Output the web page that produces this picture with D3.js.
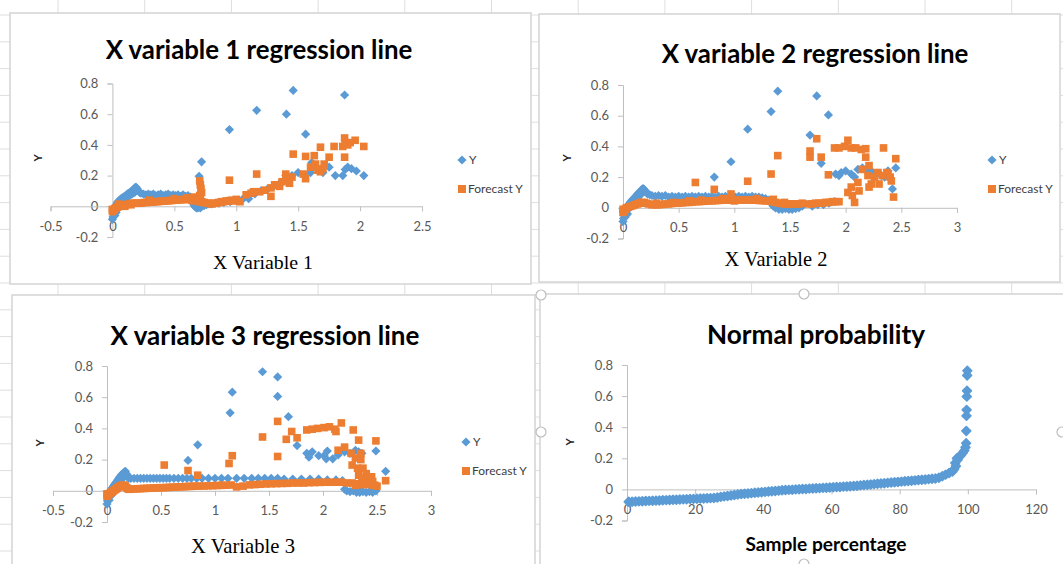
<!DOCTYPE html>
<html>
<head>
<meta charset="utf-8">
<script src="https://cdn.jsdelivr.net/npm/d3@7"></script>
<style>
  body { margin: 0; background: #fff; }
  svg { display: block; }
</style>
</head>
<body>
<svg id="chart" width="1063" height="564"></svg>
<script>
// values
const yTicks = [-0.2, 0, 0.2, 0.4, 0.6, 0.8];
const x1Ticks = [-0.5, 0, 0.5, 1, 1.5, 2, 2.5];
const x2Ticks = [0, 0.5, 1, 1.5, 2, 2.5, 3];
const x3Ticks = [-0.5, 0, 0.5, 1, 1.5, 2, 2.5, 3];
const pctTicks = [0, 20, 40, 60, 80, 100, 120];
const seriesNames = ['Y', 'Forecast Y'];

// X variable 1 : [x, y]
const p1Y = [
  [0,-0.085],[0.005,-0.07],[0.01,-0.05],[0.015,-0.03],[0.02,-0.01],[0.03,0.01],[0.04,0.025],[0.05,0.035],
  [0.06,0.04],[0.07,0.05],[0.08,0.055],[0.09,0.06],[0.1,0.065],[0.11,0.07],[0.12,0.08],[0.13,0.085],
  [0.14,0.09],[0.15,0.095],[0.16,0.1],[0.17,0.11],[0.18,0.12],[0.19,0.125],[0.2,0.115],[0.21,0.1],
  [0.22,0.09],[0.23,0.085],[0.02,-0.06],[0.03,-0.04],[0.04,-0.02],[0.06,0],[0.08,0.03],[0.1,0.045],
  [0.12,0.06],[0.14,0.07],[0.16,0.08],[0.18,0.09],[0.19,0.105],
  [0.25,0.08],[0.27,0.075],[0.29,0.08],[0.31,0.075],[0.33,0.08],[0.35,0.07],[0.37,0.075],[0.39,0.08],
  [0.41,0.07],[0.43,0.075],[0.45,0.08],[0.47,0.07],[0.49,0.075],[0.51,0.07],[0.53,0.075],[0.55,0.065],
  [0.57,0.075],[0.59,0.065],[0.61,0.07],[0.63,0.06],[0.64,0.04],[0.65,0.02],[0.66,0.005],[0.67,-0.005],
  [0.68,-0.01],[0.69,-0.01],[0.7,-0.005],[0.71,-0.01],[0.72,0],[0.74,0.005],[0.76,0.01],[0.78,0.015],
  [0.8,0.015],[0.83,0.02],[0.86,0.02],[0.9,0.025],[0.95,0.03],[1,0.035],[1.05,0.045],[1.1,0.05],
  [1.15,0.08],[1.2,0.1],[1.25,0.11],[1.3,0.13],[1.35,0.15],[1.4,0.2],[1.45,0.2],[1.5,0.22],
  [1.55,0.2],[1.6,0.22],[1.65,0.25],[1.7,0.22],
  [1.46,0.755],[1.165,0.625],[1.405,0.6],[1.875,0.725],[0.945,0.5],[1.56,0.47],[0.72,0.29],[0.7,0.195],
  [1.61,0.285],[1.75,0.255],[1.8,0.2],[1.86,0.2],[1.9,0.255],[1.93,0.245],[1.97,0.23],[2.03,0.2],[1.88,0.24]
];
const p1F = [
  [0,-0.035],[0,-0.02],[0.01,-0.025],[0.02,-0.015],[0.03,-0.01],[0.04,-0.005],[0.05,0],[0.06,0],
  [0.07,0.005],[0.08,0.005],[0.1,0.01],[0.12,0.012],[0.14,0.015],[0.16,0.02],[0.18,0.02],[0.2,0.02],
  [0.22,0.02],[0.24,0.022],[0.26,0.025],[0.28,0.025],[0.3,0.027],[0.32,0.028],[0.34,0.03],[0.36,0.03],
  [0.38,0.032],[0.4,0.033],[0.42,0.035],[0.44,0.035],[0.46,0.037],[0.48,0.038],[0.5,0.04],[0.52,0.04],
  [0.54,0.042],[0.56,0.043],[0.58,0.045],[0.6,0.045],[0.62,0.045],[0.64,0.04],[0.66,0.035],[0.68,0.04],
  [0.7,0.03],[0.72,0.03],[0.74,0.025],[0.76,0.02],[0.78,0.02],[0.8,0.015],[0.82,0.02],[0.84,0.02],
  [0.86,0.025],[0.88,0.03],[0.9,0.03],[0.92,0.035],[0.94,0.035],[0.96,0.04],[0.98,0.035],[1,0.045],
  [1.03,0.03],[0.05,0.015],[0.1,0],[0.15,0.01],[0.3,0.04],[0.5,0.05],[0.6,0.055],[0.66,0.06],
  [0.705,0.165],[0.71,0.14],[0.715,0.115],[0.72,0.09],[0.705,0.07],[0.71,0.055],
  [0.945,0.17],[1.165,0.21],[1.08,0.075],[1.12,0.085],[1.14,0.095],[1.19,0.095],[1.23,0.105],[1.28,0.12],
  [1.28,0.065],[1.31,0.14],[1.35,0.13],[1.37,0.16],[1.4,0.21],[1.42,0.17],[1.43,0.15],[1.45,0.19],
  [1.46,0.34],[1.54,0.21],[1.56,0.18],[1.56,0.325],[1.6,0.255],[1.63,0.33],[1.64,0.275],[1.66,0.235],
  [1.68,0.385],[1.68,0.225],[1.7,0.245],[1.71,0.275],[1.75,0.32],[1.79,0.39],[1.86,0.39],[1.875,0.445],
  [1.875,0.32],[1.9,0.4],[1.92,0.415],[1.96,0.43],[2.03,0.39],[1.88,0.41]
];

// X variable 2 : [x, y]
const p2Y = [
  [0,-0.09],[0.005,-0.07],[0.01,-0.05],[0.02,-0.03],[0.03,-0.01],[0.04,0.01],[0.05,0.02],[0.06,0.03],
  [0.07,0.04],[0.08,0.05],[0.09,0.055],[0.1,0.06],[0.11,0.07],[0.12,0.08],[0.13,0.09],[0.14,0.095],
  [0.15,0.1],[0.16,0.11],[0.17,0.12],[0.18,0.125],[0.19,0.12],[0.2,0.11],[0.21,0.1],[0.22,0.09],
  [0.24,0.085],[0.02,-0.06],[0.04,-0.04],[0.06,0],[0.08,0.02],[0.1,0.04],[0.13,0.06],[0.16,0.085],
  [0.26,0.08],[0.29,0.075],[0.32,0.08],[0.35,0.075],[0.38,0.08],[0.41,0.07],[0.44,0.075],[0.47,0.07],
  [0.5,0.075],[0.53,0.07],[0.56,0.075],[0.59,0.07],[0.62,0.075],[0.65,0.07],[0.68,0.075],[0.71,0.07],
  [0.74,0.075],[0.77,0.07],[0.8,0.075],[0.83,0.07],[0.86,0.075],[0.89,0.07],[0.92,0.075],[0.95,0.07],
  [0.98,0.075],[1.01,0.07],[1.04,0.075],[1.07,0.07],[1.1,0.075],[1.13,0.07],[1.16,0.075],[1.19,0.07],
  [1.22,0.07],[1.25,0.065],[1.28,0.06],[1.31,0.05],[1.33,0.03],[1.35,0.01],[1.37,0],[1.4,-0.01],
  [1.43,-0.01],[1.46,-0.005],[1.49,-0.01],[1.52,-0.01],[1.55,-0.005],[1.58,0],[1.61,0.01],[1.7,0.01],
  [1.75,0.02],[1.8,0.02],[1.85,0.03],[1.9,0.04],
  [1.39,0.76],[1.33,0.627],[1.12,0.512],[1.74,0.729],[1.845,0.605],[1.68,0.474],[0.97,0.3],[0.82,0.2],
  [1.78,0.29],[1.91,0.22],[1.94,0.21],[1.96,0.23],[2,0.24],[2.05,0.22],[2.08,0.2],[2.11,0.25],
  [2.15,0.26],[2.19,0.24],[2.23,0.24],[2.27,0.22],[2.32,0.21],[2.35,0.2],[2.38,0.24],[2.42,0.123],[2.45,0.26]
];
const p2F = [
  [0,-0.03],[0,-0.01],[0.01,-0.02],[0.02,-0.01],[0.03,0],[0.05,0.005],[0.07,0.01],[0.09,0.015],
  [0.11,0.02],[0.13,0.025],[0.15,0.03],[0.17,0.035],[0.19,0.035],[0.21,0.03],[0.23,0.025],[0.26,0.02],
  [0.29,0.02],[0.32,0.02],[0.35,0.022],[0.38,0.025],[0.41,0.025],[0.44,0.028],[0.47,0.03],[0.5,0.03],
  [0.53,0.032],[0.56,0.035],[0.59,0.035],[0.62,0.037],[0.65,0.04],[0.68,0.04],[0.71,0.042],[0.74,0.043],
  [0.77,0.045],[0.8,0.045],[0.83,0.047],[0.86,0.048],[0.89,0.05],[0.92,0.05],[0.95,0.05],[0.98,0.052],
  [1.01,0.05],[1.04,0.052],[1.07,0.05],[1.1,0.05],[1.13,0.052],[1.16,0.05],[1.19,0.05],[1.22,0.048],
  [1.25,0.047],[1.28,0.045],[1.31,0.045],[1.34,0.04],[1.37,0.035],[1.4,0.03],[1.43,0.028],[1.46,0.025],
  [1.49,0.025],[1.52,0.025],[1.55,0.025],[1.58,0.025],[1.61,0.03],[1.67,0.025],[1.7,0.025],[1.73,0.03],
  [1.76,0.03],[1.79,0.03],[1.82,0.035],[1.85,0.035],[1.88,0.04],[1.91,0.04],[1.94,0.04],
  [0.3,0.03],[0.45,0.035],[0.6,0.045],[0.7,0.05],[0.9,0.06],[1,0.045],[1.2,0.06],[1.35,0.055],[1.45,0.035],
  [0.65,0.165],[0.82,0.12],[0.97,0.09],[1.12,0.173],[1.33,0.22],[1.39,0.34],[1.68,0.37],[1.68,0.33],
  [1.74,0.45],[1.78,0.33],[1.845,0.215],[1.9,0.39],[1.94,0.39],[1.99,0.4],[2.02,0.44],[2.05,0.39],
  [2.09,0.39],[2.14,0.38],[2.18,0.385],[2.18,0.33],[2.34,0.39],[2.45,0.32],[2.15,0.25],[2.21,0.275],
  [2.2,0.21],[2.23,0.155],[2.21,0.135],[2.29,0.23],[2.3,0.155],[2.37,0.23],[2.38,0.22],[2.4,0.2],
  [2.41,0.175],[2.43,0.07],[2.02,0.1],[2.06,0.08],[2.08,0.035],[2.11,0.165],[2.12,0.11],[2.05,0.135],
  [2.33,0.21],[2.26,0.2]
];

// X variable 3 : [x, y]
const p3Y = [
  [0,-0.085],[0.005,-0.065],[0.01,-0.045],[0.02,-0.025],[0.03,-0.005],[0.04,0.01],[0.05,0.02],[0.06,0.03],
  [0.07,0.04],[0.08,0.05],[0.09,0.06],[0.1,0.07],[0.11,0.08],[0.12,0.09],[0.13,0.1],[0.14,0.105],
  [0.15,0.11],[0.16,0.12],[0.17,0.125],[0.18,0.11],[0.19,0.09],[0.2,0.08],[0.02,-0.06],[0.04,-0.03],
  [0.06,0],[0.08,0.02],[0.1,0.04],[0.12,0.06],[0.14,0.075],
  [0.22,0.08],[0.25,0.08],[0.28,0.08],[0.31,0.08],[0.34,0.08],[0.37,0.08],[0.4,0.08],[0.43,0.08],
  [0.46,0.08],[0.49,0.08],[0.52,0.08],[0.55,0.08],[0.58,0.08],[0.62,0.08],[0.66,0.08],[0.7,0.08],
  [0.74,0.08],[0.78,0.08],[0.83,0.08],[0.88,0.08],[0.94,0.08],[1,0.08],[1.06,0.08],[1.12,0.08],
  [1.2,0.08],[1.27,0.08],[1.34,0.08],[1.4,0.08],[1.46,0.08],[1.52,0.08],[1.58,0.08],[1.64,0.075],
  [1.72,0.075],[1.8,0.075],[1.88,0.075],[1.96,0.075],[2.04,0.07],[2.12,0.07],[2.18,0.065],
  [2.2,0.01],[2.22,0],[2.25,-0.005],[2.28,0],[2.31,-0.01],[2.34,-0.01],[2.37,-0.005],[2.4,-0.01],
  [2.43,-0.005],[2.46,-0.01],[2.49,0],[2.33,0.02],
  [1.44,0.763],[1.58,0.73],[1.58,0.605],[1.16,0.632],[1.14,0.5],[1.68,0.475],[0.84,0.295],[0.75,0.195],
  [1.76,0.29],[1.85,0.24],[1.87,0.215],[1.9,0.25],[1.96,0.225],[2.01,0.225],[2.04,0.255],[2.03,0.205],
  [2.09,0.205],[2.14,0.23],[2.2,0.25],[2.25,0.24],[2.3,0.26],[2.33,0.25],[2.36,0.24],[2.49,0.255],[2.58,0.125]
];
const p3F = [
  [0,-0.035],[0,-0.02],[0.01,-0.025],[0.02,-0.02],[0.03,-0.015],[0.04,-0.01],[0.05,-0.005],[0.06,0],
  [0.07,0.005],[0.08,0.01],[0.09,0.015],[0.1,0.02],[0.11,0.025],[0.12,0.03],[0.13,0.03],[0.14,0.035],
  [0.15,0.035],[0.16,0.035],[0.17,0.03],[0.18,0.02],[0.19,0.015],[0.2,0.01],[0.22,0.01],
  [0.25,0.012],[0.28,0.013],[0.31,0.014],[0.34,0.015],[0.37,0.016],[0.4,0.017],[0.43,0.018],[0.46,0.019],
  [0.49,0.02],[0.52,0.02],[0.55,0.021],[0.58,0.022],[0.61,0.023],[0.64,0.024],[0.67,0.025],[0.7,0.026],
  [0.73,0.027],[0.76,0.028],[0.79,0.029],[0.82,0.03],[0.86,0.03],[0.9,0.031],[0.94,0.032],[0.98,0.033],
  [1.02,0.034],[1.06,0.035],[1.1,0.036],[1.15,0.037],[1.2,0.025],[1.26,0.03],[1.32,0.038],[1.37,0.04],
  [1.42,0.042],[1.47,0.044],[1.52,0.045],[1.57,0.046],[1.62,0.047],[1.67,0.048],[1.72,0.05],[1.77,0.05],
  [1.82,0.05],[1.87,0.052],[1.92,0.053],[1.97,0.054],[2.02,0.055],[2.07,0.055],[2.12,0.055],[2.17,0.055],
  [2.22,0.05],[2.27,0.05],[2.32,0.045],[2.37,0.04],[2.42,0.04],[2.47,0.035],[2.5,0.03],
  [0.53,0.165],[0.75,0.13],[0.84,0.1],[1.13,0.175],[1.16,0.225],[1.44,0.345],[1.58,0.445],[1.58,0.22],
  [1.66,0.33],[1.71,0.38],[1.76,0.34],[1.85,0.39],[1.9,0.395],[1.95,0.4],[2.01,0.405],[2.06,0.41],
  [2.11,0.395],[2.17,0.435],[2.12,0.38],[2.28,0.39],[2.33,0.325],[2.49,0.32],[2.58,0.065],[2.14,0.26],
  [2.2,0.28],[2.26,0.24],[2.27,0.165],[2.3,0.21],[2.32,0.145],[2.35,0.24],[2.35,0.2],[2.37,0.145],
  [2.4,0.11],[2.41,0.08],[2.45,0.09],[2.46,0.06],[2.48,0.035],[2.33,0.1],[2.38,0.06],[2.3,0.035],
  [2.42,0.05],[2.36,0.08]
];

// normal probability : [sample percentage, y]
const normPoints = [
  [0.5,-0.08],[1.5,-0.08],[2.5,-0.078],[3.5,-0.077],[4.5,-0.076],[5.5,-0.075],[6.5,-0.074],[7.5,-0.073],
  [8.5,-0.072],[9.5,-0.071],[10.5,-0.07],[11.5,-0.069],[12.5,-0.068],[13.5,-0.067],[14.5,-0.066],[15.5,-0.065],
  [16.5,-0.064],[17.5,-0.063],[18.5,-0.062],[19.5,-0.061],[20.5,-0.06],[21.5,-0.059],[22.5,-0.058],[23.5,-0.057],
  [24.5,-0.056],[25.5,-0.055],[26.5,-0.052],[27.5,-0.048],[28.5,-0.045],[29.5,-0.042],[30.5,-0.039],[31.5,-0.036],
  [32.5,-0.033],[33.5,-0.03],[34.5,-0.028],[35.5,-0.026],[36.5,-0.024],[37.5,-0.022],[38.5,-0.02],[39.5,-0.018],
  [40.5,-0.016],[41.5,-0.014],[42.5,-0.012],[43.5,-0.01],[44.5,-0.008],[45.5,-0.006],[46.5,-0.004],[47.5,-0.003],
  [48.5,-0.002],[49.5,0],[50.5,0.001],[51.5,0.002],[52.5,0.003],[53.5,0.005],[54.5,0.006],[55.5,0.007],
  [56.5,0.008],[57.5,0.01],[58.5,0.011],[59.5,0.012],[60.5,0.014],[61.5,0.015],[62.5,0.016],[63.5,0.018],
  [64.5,0.019],[65.5,0.02],[66.5,0.022],[67.5,0.024],[68.5,0.026],[69.5,0.028],[70.5,0.03],[71.5,0.032],
  [72.5,0.034],[73.5,0.036],[74.5,0.038],[75.5,0.04],[76.5,0.042],[77.5,0.044],[78.5,0.046],[79.5,0.048],
  [80.5,0.05],[81.5,0.052],[82.5,0.054],[83.5,0.056],[84.5,0.058],[85.5,0.06],[86.5,0.062],[87.5,0.064],
  [88.5,0.066],[89.5,0.068],[90.5,0.07],[91.5,0.075],[92.5,0.085],[93.5,0.095],[94.5,0.105],[95.5,0.115],
  [96,0.13],[96.3,0.17],[96.5,0.15],[96.8,0.2],[97,0.19],[97.5,0.21],[98,0.22],[98.5,0.235],[99,0.25],
  [99.3,0.27],[99.5,0.297],[99.55,0.376],[99.6,0.473],[99.65,0.511],[99.7,0.597],[99.75,0.634],
  [99.8,0.733],[99.85,0.763]
];

const BLUE = '#5B9BD5', ORANGE = '#ED7D31';

const panels = [
  { box: [10, 13, 531, 284], title: 'X variable 1 regression line', tx: 259, ty: 50, tw: 307,
    xDomain: [-0.5, 2.5], xRange: [50.5, 422], yRange: [237, 83.5], xTicks: x1Ticks,
    xTitle: 'X Variable 1', xtx: 263, xty: 262, xtw: 100, serif: true,
    ytx: 38, yty: 158, legend: [462, 160], series: [p1Y, p1F] },
  { box: [539, 14, 1060, 282], title: 'X variable 2 regression line', tx: 815, ty: 54, tw: 307,
    xDomain: [0, 3], xRange: [623, 957], yRange: [238.5, 85], xTicks: x2Ticks,
    xTitle: 'X Variable 2', xtx: 776, xty: 259, xtw: 103, serif: true,
    ytx: 567, yty: 158, legend: [992, 160], series: [p2Y, p2F] },
  { box: [12, 295, 535, 575], title: 'X variable 3 regression line', tx: 265, ty: 336, tw: 309,
    xDomain: [-0.5, 3], xRange: [53, 431], yRange: [522, 366], xTicks: x3Ticks,
    xTitle: 'X Variable 3', xtx: 243, xty: 546, xtw: 104, serif: true,
    ytx: 40, yty: 443, legend: [466, 442], series: [p3Y, p3F] },
  { box: [540, 294, 1075, 575], title: 'Normal probability', tx: 816, ty: 335, tw: 218,
    xDomain: [0, 120], xRange: [627, 1036], yRange: [520.5, 365], xTicks: pctTicks,
    xTitle: 'Sample percentage', xtx: 826, xty: 544, xtw: 161, serif: false,
    ytx: 570, yty: 442, legend: null, series: [normPoints] }
];

const svg = d3.select('#chart');

// spreadsheet cell grid behind the charts
const cols = d3.range(58, 1063, 86.7);
const rows = d3.range(15, 564, 26.8);
svg.append('g').selectAll('line.c').data(cols).join('line')
  .attr('x1', d => d).attr('x2', d => d).attr('y1', 0).attr('y2', 564)
  .attr('stroke', '#dedede').attr('stroke-width', 1);
svg.append('g').selectAll('line.r').data(rows).join('line')
  .attr('x1', 0).attr('x2', 1063).attr('y1', d => d).attr('y2', d => d)
  .attr('stroke', '#dedede').attr('stroke-width', 1);

function fit(sel, width) {
  const w = sel.node().getComputedTextLength();
  sel.attr('font-size', parseFloat(sel.attr('font-size')) * width / w);
}

const diamond = r => `M0,${-r}L${r},0L0,${r}L${-r},0Z`;

panels.forEach(p => {
  const g = svg.append('g');
  const [bx0, by0, bx1, by1] = p.box;
  g.append('rect')
    .attr('x', bx0).attr('y', by0).attr('width', bx1 - bx0).attr('height', by1 - by0)
    .attr('fill', '#fff').attr('stroke', '#d4d4d4').attr('stroke-width', 1.5);

  const x = d3.scaleLinear().domain(p.xDomain).range(p.xRange);
  const y = d3.scaleLinear().domain([-0.2, 0.8]).range(p.yRange);

  const yAxis = g.append('g')
    .attr('transform', `translate(${x(0)},0)`)
    .call(d3.axisLeft(y).tickValues(yTicks).tickFormat(d => String(d)).tickSize(5).tickPadding(9));
  const xAxis = g.append('g')
    .attr('transform', `translate(0,${y(0)})`)
    .call(d3.axisBottom(x).tickValues(p.xTicks).tickFormat(d => String(d)).tickSize(5).tickPadding(10));
  [yAxis, xAxis].forEach(a => {
    a.attr('font-family', 'Lato, sans-serif').attr('font-size', 13);
    a.selectAll('path, line').attr('stroke', '#bfbfbf');
    a.selectAll('text').attr('fill', '#595959');
  });

  // titles
  const t = g.append('text').attr('x', p.tx).attr('y', p.ty).attr('dy', '0.35em')
    .attr('text-anchor', 'middle').attr('font-family', 'Lato, sans-serif')
    .attr('font-weight', 'bold').attr('font-size', 22).attr('fill', '#000').text(p.title);
  fit(t, p.tw);
  const xt = g.append('text').attr('x', p.xtx).attr('y', p.xty).attr('dy', '0.35em')
    .attr('text-anchor', 'middle')
    .attr('font-family', p.serif ? '"Liberation Serif", "DejaVu Serif", serif' : 'Lato, sans-serif')
    .attr('font-weight', p.serif ? 'normal' : 'bold')
    .attr('font-size', p.serif ? 20 : 15).attr('fill', '#000').text(p.xTitle);
  fit(xt, p.xtw);
  g.append('text').attr('transform', `translate(${p.ytx},${p.yty}) rotate(-90)`)
    .attr('dy', '0.35em').attr('text-anchor', 'middle')
    .attr('font-family', 'Lato, sans-serif').attr('font-weight', 'bold')
    .attr('font-size', 11).attr('fill', '#262626').text('Y');

  // points: Y first, Forecast Y drawn on top
  const norm = !p.legend;
  g.append('g').selectAll('path').data(p.series[0]).join('path')
    .attr('d', diamond(norm ? 4.4 : 4.6))
    .attr('transform', d => `translate(${x(d[0])},${y(d[1])})`)
    .attr('fill', BLUE)
    .attr('stroke', norm ? BLUE : 'none').attr('stroke-width', norm ? 1.6 : 0)
    .attr('stroke-linejoin', 'round');
  if (p.series[1]) {
    g.append('g').selectAll('rect').data(p.series[1]).join('rect')
      .attr('x', d => x(d[0]) - 3.8).attr('y', d => y(d[1]) - 3.8)
      .attr('width', 7.6).attr('height', 7.6)
      .attr('fill', ORANGE);
  }

  // legend
  if (p.legend) {
    const [lx, ly] = p.legend;
    const lg = g.append('g').attr('font-family', 'Lato, sans-serif').attr('font-size', 12).attr('fill', '#404040');
    lg.append('path').attr('d', diamond(4.6)).attr('transform', `translate(${lx},${ly})`).attr('fill', BLUE);
    lg.append('text').attr('x', lx + 7).attr('y', ly).attr('dy', '0.35em').text(seriesNames[0]);
    lg.append('rect').attr('x', lx - 4).attr('y', ly + 29 - 4).attr('width', 8).attr('height', 8).attr('fill', ORANGE);
    lg.append('text').attr('x', lx + 6).attr('y', ly + 29).attr('dy', '0.35em').text(seriesNames[1]);
  }
});

// selection handles of the active chart (bottom right)
const handles = [[541, 295], [804, 294], [541, 432], [1062, 432], [804, 564]];
svg.append('g').selectAll('circle').data(handles).join('circle')
  .attr('cx', d => d[0]).attr('cy', d => d[1]).attr('r', 5)
  .attr('fill', '#fff').attr('stroke', '#bdbdbd').attr('stroke-width', 1.2);
</script>
</body>
</html>
